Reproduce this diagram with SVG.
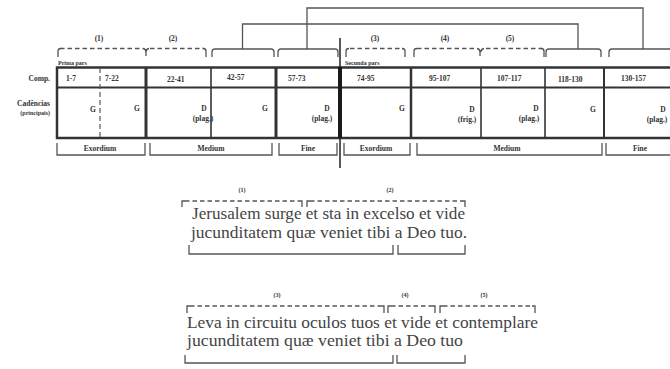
<svg xmlns="http://www.w3.org/2000/svg" width="670" height="369" viewBox="0 0 670 369">
<style>
.t{font-family:"Liberation Serif","Times New Roman",serif;font-weight:bold;fill:#333;font-size:7.5px}
.s{font-size:6px}
.m{text-anchor:middle}
.e{text-anchor:end}
.p{font-family:"Liberation Serif","Times New Roman",serif;fill:#444;font-size:17px}
.br{fill:none;stroke:#555;stroke-width:1.3}
.dh{fill:none;stroke:#555;stroke-width:1.3;stroke-dasharray:4.5 3}
.ln{fill:none;stroke:#333}
</style>
<rect width="670" height="369" fill="#fff"/>

<g id="table">
  <rect x="57" y="67.5" width="620" height="70.5" class="ln" stroke-width="2.5"/>
  <line x1="57" y1="87.5" x2="670" y2="87.5" class="ln" stroke-width="2"/>
  <line x1="100" y1="68" x2="100" y2="137" stroke="#555" stroke-width="1.2" stroke-dasharray="5 3"/>
  <line x1="146" y1="68" x2="146" y2="137" class="ln" stroke-width="3"/>
  <line x1="211" y1="68" x2="211" y2="137" class="ln" stroke-width="1.6"/>
  <line x1="276" y1="68" x2="276" y2="137" class="ln" stroke-width="3"/>
  <line x1="340" y1="38" x2="340" y2="168" stroke="#222" stroke-width="1.5"/>
  <line x1="340" y1="67" x2="340" y2="138" stroke="#1a1a1a" stroke-width="4"/>
  <line x1="411" y1="68" x2="411" y2="137" class="ln" stroke-width="2.5"/>
  <line x1="481" y1="68" x2="481" y2="137" class="ln" stroke-width="1.6"/>
  <line x1="545" y1="68" x2="545" y2="137" class="ln" stroke-width="1.6"/>
  <line x1="604" y1="68" x2="604" y2="137" class="ln" stroke-width="2"/>
</g>

<g id="row-labels">
  <text class="t e" x="50" y="81">Comp.</text>
  <text class="t e" x="50" y="106">Cadências</text>
  <text class="t e s" x="50" y="114.5">(principais)</text>
  <text class="t s" x="58" y="64.5">Prima pars</text>
  <text class="t s" x="345" y="64.5">Secunda pars</text>
</g>

<g id="comp-row">
  <text class="t" x="66" y="81">1-7</text>
  <text class="t" x="105" y="81">7-22</text>
  <text class="t" x="167" y="82">22-41</text>
  <text class="t" x="227" y="80">42-57</text>
  <text class="t" x="288" y="81">57-73</text>
  <text class="t" x="357" y="81">74-95</text>
  <text class="t" x="429" y="81">95-107</text>
  <text class="t" x="497" y="81">107-117</text>
  <text class="t" x="558" y="82">118-130</text>
  <text class="t" x="621" y="81">130-157</text>
</g>

<g id="cadence-row">
  <text class="t m" x="93" y="112">G</text>
  <text class="t m" x="137" y="111">G</text>
  <text class="t m" x="204" y="111">D</text>
  <text class="t m" x="203" y="121">(plag.)</text>
  <text class="t m" x="265" y="111">G</text>
  <text class="t m" x="327" y="111">D</text>
  <text class="t m" x="322" y="121">(plag.)</text>
  <text class="t m" x="402" y="111">G</text>
  <text class="t m" x="472" y="112">D</text>
  <text class="t m" x="467" y="122">(frig.)</text>
  <text class="t m" x="536" y="111">D</text>
  <text class="t m" x="529" y="121">(plag.)</text>
  <text class="t m" x="593" y="112">G</text>
  <text class="t m" x="663" y="112">D</text>
  <text class="t m" x="657" y="122">(plag.)</text>
</g>

<g id="top-brackets">
  <text class="t m" x="99" y="41">(1)</text>
  <text class="t m" x="173" y="41">(2)</text>
  <text class="t m" x="375" y="41">(3)</text>
  <text class="t m" x="445" y="41">(4)</text>
  <text class="t m" x="510" y="41">(5)</text>
  <path class="dh" d="M60,48.5 H143"/>
  <path class="br" d="M58,57 V51 Q58,48.5 61,48.5 M143,48.5 Q146,49 146,52 V56 M149,48.5 Q146,49 146,52"/>
  <path class="dh" d="M150,48.5 H204"/>
  <path class="br" d="M203,48.5 Q206,48.5 206,51 V57"/>
  <path class="dh" d="M350,48.5 H403"/>
  <path class="br" d="M346,57 V51 Q346,48.5 349,48.5 M402,48.5 Q405,48.5 405,51 V57"/>
  <path class="dh" d="M417,48.5 H477"/>
  <path class="br" d="M414,57 V51 Q414,48.5 417,48.5 M477,48.5 Q480,49 480,52 V56 M484,48.5 Q481,49 481,52"/>
  <path class="dh" d="M486,48.5 H542"/>
  <path class="br" d="M541,48.5 Q544,48.5 544,51 V57"/>
  <path class="br" d="M212,57 V52 Q212,49 215,49 H271 Q274,49 274,52 V57"/>
  <path class="br" d="M278,57 V52 Q278,49 281,49 H335 Q338,49 338,52 V57"/>
  <path class="br" d="M546,57 V52 Q546,49 549,49 H598 Q601,49 601,52 V57"/>
  <path class="br" d="M609,57 V52 Q609,49 612,49 H672"/>
</g>

<g id="connectors">
  <path class="br" d="M242.5,49 V24 H578 V49"/>
  <path class="br" d="M307,49 V8 H643 V49"/>
</g>

<g id="section-brackets">
  <path class="br" d="M57,143 V155 H145 V143"/>
  <path class="br" d="M150,143 V155 H272 V143"/>
  <path class="br" d="M279,143 V155 H337 V143"/>
  <path class="br" d="M344,143 V155 H410 V143"/>
  <path class="br" d="M417,143 V155 H602 V143"/>
  <path class="br" d="M606,143 V155 H672"/>
  <text class="t m" x="100" y="151">Exordium</text>
  <text class="t m" x="211" y="151">Medium</text>
  <text class="t m" x="308" y="151">Fine</text>
  <text class="t m" x="376" y="151">Exordium</text>
  <text class="t m" x="507" y="151">Medium</text>
  <text class="t m" x="640" y="151">Fine</text>
</g>

<g id="passage-1">
  <text class="t m s" x="242" y="192">(1)</text>
  <text class="t m s" x="390" y="192">(2)</text>
  <path class="dh" d="M185,201 H299"/>
  <path class="br" d="M182,207 V201 H185 M299,201 H302 V207"/>
  <path class="dh" d="M310,201 H462"/>
  <path class="br" d="M307,207 V201 H310 M462,201 H465 V207"/>
  <text class="p" x="192" y="219" textLength="273" lengthAdjust="spacingAndGlyphs">Jerusalem surge et sta in excelso et vide</text>
  <text class="p" x="191" y="238" textLength="276" lengthAdjust="spacingAndGlyphs">jucunditatem quæ veniet tibi a Deo tuo.</text>
  <path class="br" d="M189,245 V254 H393 V245"/>
  <path class="br" d="M398,245 V254 H465 V245"/>
</g>

<g id="passage-2">
  <text class="t m s" x="277" y="297">(3)</text>
  <text class="t m s" x="405" y="297">(4)</text>
  <text class="t m s" x="484" y="297">(5)</text>
  <path class="dh" d="M190,306 H381"/>
  <path class="br" d="M187,313 V306 H190 M381,306 H384 V313"/>
  <path class="dh" d="M391,306 H432"/>
  <path class="br" d="M388,313 V306 H391 M432,306 H435 V313"/>
  <path class="dh" d="M443,306 H532"/>
  <path class="br" d="M440,313 V306 H443 M532,306 H535 V313"/>
  <text class="p" x="187" y="328" textLength="351" lengthAdjust="spacingAndGlyphs">Leva in circuitu oculos tuos et vide et contemplare</text>
  <text class="p" x="187" y="346" textLength="276" lengthAdjust="spacingAndGlyphs">jucunditatem quæ veniet tibi a Deo tuo</text>
  <path class="br" d="M185,355 V363 H393 V355"/>
  <path class="br" d="M397,355 V363 H465 V355"/>
</g>
</svg>
